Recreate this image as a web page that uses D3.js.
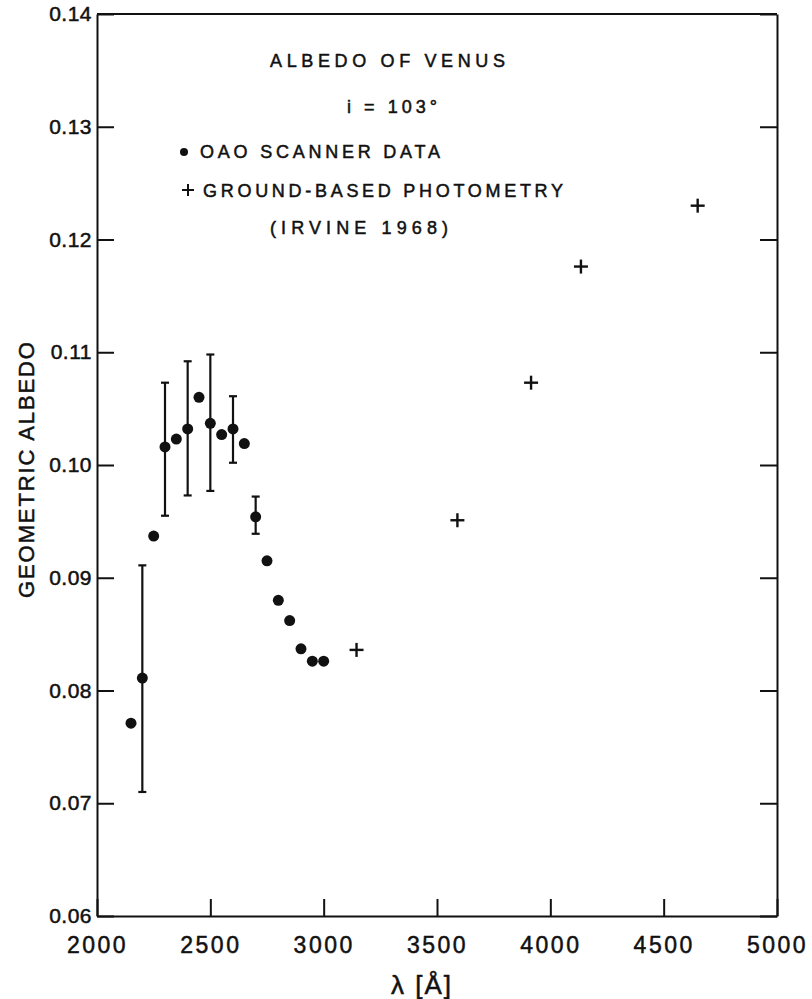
<!DOCTYPE html>
<html>
<head>
<meta charset="utf-8">
<script src="https://cdn.jsdelivr.net/npm/d3@7"></script>
<style>
    body { margin: 0; background: #fff; }
    text { font-family: "Liberation Sans", Arial, sans-serif; fill: #111; stroke: #111; stroke-width: 0.5px; }
    .axis path, .axis line { stroke: #111; stroke-width: 2; }
</style>
</head>
<body>
<div id="chart"></div>
<script>
// OAO scanner data (filled circles)
var oaoWavelength = [2150, 2200, 2250, 2300, 2350, 2400, 2450, 2500, 2550, 2600, 2650, 2700, 2750, 2800, 2850, 2900, 2950, 3000];
var oaoAlbedo = [0.0771, 0.0811, 0.0937, 0.1016, 0.1023, 0.1032, 0.1060, 0.1037, 0.1027, 0.1032, 0.1019, 0.0954, 0.0915, 0.0880, 0.0862, 0.0837, 0.0826, 0.0826];

// error bars on some of the OAO points
var errWavelength = [2200, 2300, 2400, 2500, 2600, 2700];
var errLow = [0.0710, 0.0955, 0.0973, 0.0977, 0.1002, 0.0939];
var errHigh = [0.0911, 0.1073, 0.1092, 0.1098, 0.1061, 0.0972];

// ground-based photometry, Irvine 1968 (crosses)
var groundWavelength = [3145, 3590, 3915, 4135, 4650];
var groundAlbedo = [0.0836, 0.0951, 0.1073, 0.1176, 0.1230];

var xTicks = [2000, 2500, 3000, 3500, 4000, 4500, 5000];
var yTicks = [0.06, 0.07, 0.08, 0.09, 0.10, 0.11, 0.12, 0.13, 0.14];

var width = 812, height = 999;
var margin = { top: 14, right: 35, bottom: 83, left: 97 };

var svg = d3.select('#chart')
    .append('svg')
    .attr('width', width)
    .attr('height', height);

var xScale = d3.scaleLinear()
    .domain([2000, 5000])
    .range([margin.left, width - margin.right]);

var yScale = d3.scaleLinear()
    .domain([0.06, 0.14])
    .range([height - margin.bottom, margin.top]);

var tickLen = 17;

// left axis, ticks pointing inward
svg.append('g')
    .attr('class', 'axis')
    .attr('transform', `translate(${margin.left}, 0)`)
    .call(d3.axisLeft(yScale)
        .tickValues(yTicks)
        .tickSizeInner(-tickLen)
        .tickSizeOuter(0)
        .tickPadding(5)
        .tickFormat(d3.format('.2f')))
    .selectAll('text')
    .attr('font-family', null)
    .attr('font-size', null)
    .style('font-size', '21px')
    .style('letter-spacing', '0.5px');

// right axis, ticks only
svg.append('g')
    .attr('class', 'axis')
    .attr('transform', `translate(${width - margin.right}, 0)`)
    .call(d3.axisRight(yScale)
        .tickValues(yTicks)
        .tickSizeInner(-tickLen)
        .tickSizeOuter(0)
        .tickFormat(''));

// bottom axis
svg.append('g')
    .attr('class', 'axis')
    .attr('transform', `translate(0, ${height - margin.bottom})`)
    .call(d3.axisBottom(xScale)
        .tickValues(xTicks)
        .tickSizeInner(-tickLen)
        .tickSizeOuter(0)
        .tickPadding(21)
        .tickFormat(d3.format('d')))
    .selectAll('text')
    .attr('font-family', null)
    .attr('font-size', null)
    .style('font-size', '23px')
    .style('letter-spacing', '2.5px');

// top frame line
svg.append('line')
    .attr('x1', xScale(2000))
    .attr('x2', xScale(5000))
    .attr('y1', yScale(0.14))
    .attr('y2', yScale(0.14))
    .attr('stroke', '#111')
    .attr('stroke-width', 2);

// axis titles
svg.append('text')
    .attr('transform', `translate(34, ${(yScale(0.06) + yScale(0.14)) / 2 + 5}) rotate(-90)`)
    .attr('text-anchor', 'middle')
    .attr('textLength', 256)
    .attr('lengthAdjust', 'spacing')
    .style('font-size', '22px')
    .text('GEOMETRIC ALBEDO');

svg.append('text')
    .attr('x', 422)
    .attr('y', 994)
    .attr('text-anchor', 'middle')
    .style('font-size', '26px')
    .style('letter-spacing', '2px')
    .text('λ [Å]');

// error bars
var errData = errWavelength.map((w, i) => ({ w: w, lo: errLow[i], hi: errHigh[i] }));
var capW = 4;

var eb = svg.selectAll('.err').data(errData)
    .enter()
    .append('g')
    .attr('class', 'err')
    .attr('stroke', '#111')
    .attr('stroke-width', 2.2);

eb.append('line')
    .attr('x1', d => xScale(d.w))
    .attr('x2', d => xScale(d.w))
    .attr('y1', d => yScale(d.lo))
    .attr('y2', d => yScale(d.hi));
eb.append('line')
    .attr('x1', d => xScale(d.w) - capW)
    .attr('x2', d => xScale(d.w) + capW)
    .attr('y1', d => yScale(d.lo))
    .attr('y2', d => yScale(d.lo));
eb.append('line')
    .attr('x1', d => xScale(d.w) - capW)
    .attr('x2', d => xScale(d.w) + capW)
    .attr('y1', d => yScale(d.hi))
    .attr('y2', d => yScale(d.hi));

// OAO dots
svg.selectAll('.dot').data(oaoWavelength)
    .enter()
    .append('circle')
    .attr('class', 'dot')
    .attr('cx', d => xScale(d))
    .attr('cy', (d, i) => yScale(oaoAlbedo[i]))
    .attr('r', 5.5)
    .attr('fill', '#111');

// ground-based crosses
var armLen = 7;
var cross = svg.selectAll('.cross').data(groundWavelength)
    .enter()
    .append('g')
    .attr('class', 'cross')
    .attr('transform', (d, i) => `translate(${xScale(d)}, ${yScale(groundAlbedo[i])})`)
    .attr('stroke', '#111')
    .attr('stroke-width', 2.4);
cross.append('line').attr('x1', -armLen).attr('x2', armLen).attr('y1', 0).attr('y2', 0);
cross.append('line').attr('x1', 0).attr('x2', 0).attr('y1', -armLen).attr('y2', armLen);

// annotation block
function label(txt, x, y, len) {
    svg.append('text')
        .attr('x', x)
        .attr('y', y)
        .attr('textLength', len)
        .attr('lengthAdjust', 'spacing')
        .style('font-size', '18px')
        .text(txt);
}

label('ALBEDO OF VENUS', 270, 67, 235);
label('i = 103°', 347, 113, 90);
label('OAO SCANNER DATA', 200, 158, 240);
label('GROUND-BASED PHOTOMETRY', 203, 197, 360);
label('(IRVINE 1968)', 270, 234, 178);

// legend symbols
svg.append('circle')
    .attr('cx', 184)
    .attr('cy', 152)
    .attr('r', 4)
    .attr('fill', '#111');

svg.append('g')
    .attr('transform', 'translate(188, 190)')
    .attr('stroke', '#111')
    .attr('stroke-width', 2)
    .call(g => {
        g.append('line').attr('x1', -6).attr('x2', 6);
        g.append('line').attr('y1', -6).attr('y2', 6);
    });
</script>
</body>
</html>
